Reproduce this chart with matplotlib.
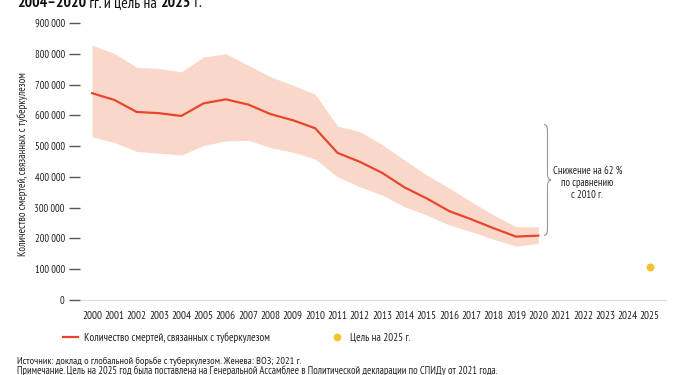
import numpy as np
import matplotlib
matplotlib.use("Agg")
import matplotlib.pyplot as plt
from matplotlib.path import Path
from matplotlib.patches import PathPatch
from matplotlib.lines import Line2D

plt.rcParams['font.family'] = ['PT Sans Narrow', 'Roboto Condensed', 'Roboto', 'DejaVu Sans']

years = list(range(2000, 2021))
deaths = [672000, 650000, 611000, 607000, 598000, 639000, 652000, 635000, 604000, 584000,
          558000, 478000, 449000, 413000, 366000, 330000, 289000, 262000, 233000, 206000, 209000]
upper = [828000, 801000, 756000, 752000, 741000, 790000, 800000, 763000, 725000, 698000,
         669000, 565000, 547000, 505000, 455000, 406000, 364000, 319000, 276000, 238000, 238000]
lower = [530000, 512000, 483000, 477000, 471000, 502000, 517000, 519000, 495000, 480000,
         458000, 400000, 368000, 341000, 303000, 276000, 244000, 222000, 197000, 175000, 184000]
target_year = 2025
target_value = 108000
all_years = list(range(2000, 2026))
yticks = [0, 100000, 200000, 300000, 400000, 500000, 600000, 700000, 800000, 900000]

red = '#E8462C'
band = '#FAD8C9'
yellow = '#F3C230'
txt = '#222222'

fig = plt.figure(figsize=(6.75, 3.75), dpi=100)
ax = fig.add_axes([80/675, 75/375, 590/675, 277/375])

ax.fill_between(years, lower, upper, color=band, lw=0)
ax.plot(years, deaths, color=red, lw=1.6)
ax.scatter([target_year], [target_value], s=22, color=yellow, zorder=3)

ax.set_xlim(1999.46, 2025.9)
ax.set_ylim(0, 900000)
ax.set_xticks(all_years)
ax.set_xticklabels([str(y) for y in all_years], fontsize=8, color=txt)
ax.set_yticks(yticks)
ax.set_yticklabels([f'{v:,}'.replace(',', ' ') for v in yticks], fontsize=7.6, color=txt)
ax.tick_params(axis='x', length=0, pad=8)
ax.tick_params(axis='y', length=8, width=1.0, color='#555555', pad=3)
for s in ['top', 'right', 'left']:
    ax.spines[s].set_visible(False)
ax.spines['bottom'].set_color('#dddddd')
ax.spines['bottom'].set_linewidth(0.8)
ax.spines['bottom'].set_bounds(1999.5, 2025.7)

ax.set_ylabel('Количество смертей, связанных с туберкулезом', fontsize=7.8, color=txt)
ax.yaxis.set_label_coords(-52/590, 0.49)

# brace for the 2010-2020 drop
bx, y0, y1 = 2020.25, 570000, 210000
ym = (y0 + y1) / 2
w = 0.16
verts = [(bx, y0), (bx + w, y0), (bx + w, y0 - 20000), (bx + w, ym + 20000),
         (bx + w, ym), (bx + 2 * w, ym), (bx + w, ym),
         (bx + w, ym - 20000), (bx + w, y1 + 20000), (bx + w, y1), (bx, y1)]
codes = [Path.MOVETO, Path.CURVE3, Path.CURVE3, Path.LINETO,
         Path.CURVE3, Path.CURVE3, Path.CURVE3,
         Path.CURVE3, Path.LINETO, Path.CURVE3, Path.CURVE3]
ax.add_patch(PathPatch(Path(verts, codes), fill=False, ec='#999999', lw=0.8))
ax.text(2022.2, ym - 10000, 'Снижение на 62 %\nпо сравнению\nс 2010 г.', fontsize=7.6,
        ha='center', va='center', color=txt, linespacing=1.3)

# legend, two separate entries
h1 = Line2D([], [], color=red, lw=1.6)
h2 = Line2D([], [], color=yellow, marker='o', ls='', markersize=4.5)
for h, lab, x0 in [(h1, 'Количество смертей, связанных с туберкулезом', 63),
                   (h2, 'Цель на 2025 г.', 329)]:
    lg = fig.legend([h], [lab], loc='center left', bbox_to_anchor=(x0/675, 1 - 338/375),
                    frameon=False, fontsize=7.9, handlelength=1.4, handletextpad=0.5,
                    borderpad=0, borderaxespad=0)
    for t in lg.get_texts():
        t.set_color(txt)

fig.text(17/675, 1 - 361/375, 'Источник: доклад о глобальной борьбе с туберкулезом. Женева: ВОЗ; 2021 г.',
         fontsize=7.5, color=txt, va='center')
fig.text(17/675, 1 - 371/375, 'Примечание. Цель на 2025 год была поставлена на Генеральной Ассамблее '
         'в Политической декларации по СПИДу от 2021 года.', fontsize=7.6, color=txt, va='center')

# clipped title at the top, mixed weights
parts = [('2004–2020', 'bold'), (' гг. и цель на ', 'normal'), ('2025', 'bold'), (' г.', 'normal')]
fig.canvas.draw()
r = fig.canvas.get_renderer()
x = 17
for s, wgt in parts:
    t = fig.text(x / 675, 1 - 7/375, s, fontsize=11.4, fontweight=wgt, color='#111111', va='baseline')
    x += t.get_window_extent(r).width

fig.savefig('out.png', dpi=100)
